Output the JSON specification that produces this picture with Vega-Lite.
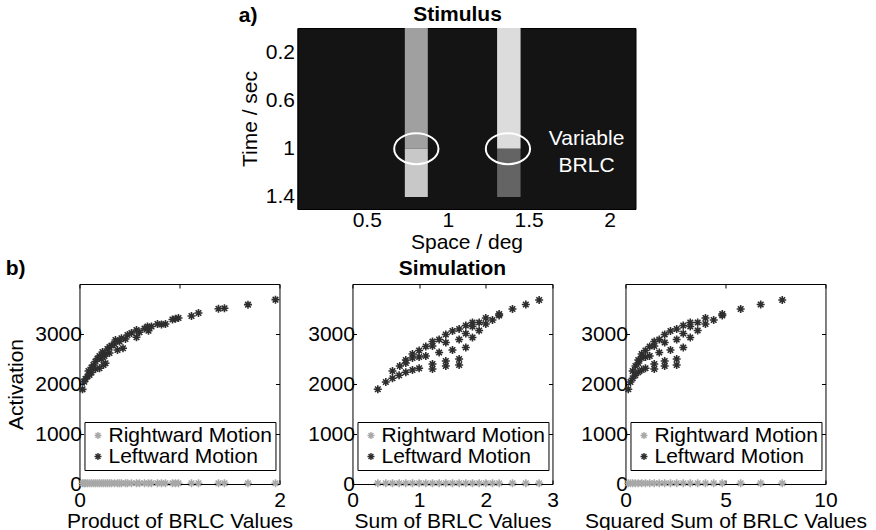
{
  "$schema": "https://vega.github.io/schema/vega-lite/v6.json",
  "background": "white",
  "padding": {"left": 5, "right": 5, "top": 3, "bottom": 0},
  "datasets": {
    "stim": [
      {"x0": 0.735, "x1": 0.877, "t0": 0, "t1": 1.0, "c": "#a0a0a0"},
      {"x0": 0.735, "x1": 0.877, "t0": 1.0, "t1": 1.4, "c": "#c8c8c8"},
      {"x0": 1.305, "x1": 1.45, "t0": 0, "t1": 1.0, "c": "#dcdcdc"},
      {"x0": 1.305, "x1": 1.45, "t0": 1.0, "t1": 1.4, "c": "#646464"}
    ],
    "ell": [{"x": 0.806, "t": 1.0}, {"x": 1.372, "t": 1.0}],
    "lbl": [{"x": 1.858, "t": 0.92, "txt": "Variable"}, {"x": 1.858, "t": 1.14, "txt": "BRLC"}],
    "prod": [
      {"p": 0.03, "a": 15, "d": "Rightward Motion"}, {"p": 0.047, "a": 15, "d": "Rightward Motion"}, {"p": 0.06, "a": 15, "d": "Rightward Motion"},
      {"p": 0.08, "a": 15, "d": "Rightward Motion"}, {"p": 0.1, "a": 15, "d": "Rightward Motion"}, {"p": 0.12, "a": 15, "d": "Rightward Motion"},
      {"p": 0.14, "a": 15, "d": "Rightward Motion"}, {"p": 0.16, "a": 15, "d": "Rightward Motion"}, {"p": 0.18, "a": 15, "d": "Rightward Motion"},
      {"p": 0.2, "a": 15, "d": "Rightward Motion"}, {"p": 0.22, "a": 15, "d": "Rightward Motion"}, {"p": 0.24, "a": 15, "d": "Rightward Motion"},
      {"p": 0.26, "a": 15, "d": "Rightward Motion"}, {"p": 0.28, "a": 15, "d": "Rightward Motion"}, {"p": 0.3, "a": 15, "d": "Rightward Motion"},
      {"p": 0.32, "a": 15, "d": "Rightward Motion"}, {"p": 0.35, "a": 15, "d": "Rightward Motion"}, {"p": 0.38, "a": 15, "d": "Rightward Motion"},
      {"p": 0.4, "a": 15, "d": "Rightward Motion"}, {"p": 0.42, "a": 15, "d": "Rightward Motion"}, {"p": 0.46, "a": 15, "d": "Rightward Motion"},
      {"p": 0.48, "a": 15, "d": "Rightward Motion"}, {"p": 0.52, "a": 15, "d": "Rightward Motion"}, {"p": 0.57, "a": 15, "d": "Rightward Motion"},
      {"p": 0.6, "a": 15, "d": "Rightward Motion"}, {"p": 0.65, "a": 15, "d": "Rightward Motion"}, {"p": 0.69, "a": 15, "d": "Rightward Motion"},
      {"p": 0.72, "a": 15, "d": "Rightward Motion"}, {"p": 0.78, "a": 15, "d": "Rightward Motion"}, {"p": 0.82, "a": 15, "d": "Rightward Motion"},
      {"p": 0.86, "a": 15, "d": "Rightward Motion"}, {"p": 0.93, "a": 15, "d": "Rightward Motion"}, {"p": 0.96, "a": 15, "d": "Rightward Motion"},
      {"p": 0.99, "a": 15, "d": "Rightward Motion"}, {"p": 1.12, "a": 15, "d": "Rightward Motion"}, {"p": 1.19, "a": 15, "d": "Rightward Motion"},
      {"p": 1.39, "a": 15, "d": "Rightward Motion"}, {"p": 1.45, "a": 15, "d": "Rightward Motion"}, {"p": 1.685, "a": 15, "d": "Rightward Motion"},
      {"p": 1.96, "a": 15, "d": "Rightward Motion"},
      {"p": 1.96, "a": 3687, "d": "Leftward Motion"}, {"p": 1.685, "a": 3587, "d": "Leftward Motion"}, {"p": 1.45, "a": 3515, "d": "Leftward Motion"},
      {"p": 1.39, "a": 3505, "d": "Leftward Motion"}, {"p": 1.19, "a": 3420, "d": "Leftward Motion"}, {"p": 1.12, "a": 3360, "d": "Leftward Motion"},
      {"p": 0.99, "a": 3320, "d": "Leftward Motion"}, {"p": 0.96, "a": 3305, "d": "Leftward Motion"}, {"p": 0.93, "a": 3290, "d": "Leftward Motion"},
      {"p": 0.86, "a": 3200, "d": "Leftward Motion"}, {"p": 0.82, "a": 3190, "d": "Leftward Motion"}, {"p": 0.78, "a": 3200, "d": "Leftward Motion"},
      {"p": 0.72, "a": 3150, "d": "Leftward Motion"}, {"p": 0.68, "a": 3150, "d": "Leftward Motion"}, {"p": 0.65, "a": 3110, "d": "Leftward Motion"},
      {"p": 0.69, "a": 3065, "d": "Leftward Motion"}, {"p": 0.6, "a": 3035, "d": "Leftward Motion"}, {"p": 0.57, "a": 3080, "d": "Leftward Motion"},
      {"p": 0.57, "a": 2935, "d": "Leftward Motion"}, {"p": 0.52, "a": 3020, "d": "Leftward Motion"}, {"p": 0.48, "a": 2980, "d": "Leftward Motion"},
      {"p": 0.46, "a": 2900, "d": "Leftward Motion"}, {"p": 0.435, "a": 2715, "d": "Leftward Motion"}, {"p": 0.42, "a": 2915, "d": "Leftward Motion"},
      {"p": 0.4, "a": 2850, "d": "Leftward Motion"}, {"p": 0.38, "a": 2680, "d": "Leftward Motion"}, {"p": 0.36, "a": 2880, "d": "Leftward Motion"},
      {"p": 0.35, "a": 2800, "d": "Leftward Motion"}, {"p": 0.32, "a": 2770, "d": "Leftward Motion"}, {"p": 0.3, "a": 2740, "d": "Leftward Motion"},
      {"p": 0.3, "a": 2620, "d": "Leftward Motion"}, {"p": 0.28, "a": 2700, "d": "Leftward Motion"}, {"p": 0.26, "a": 2415, "d": "Leftward Motion"},
      {"p": 0.26, "a": 2600, "d": "Leftward Motion"}, {"p": 0.25, "a": 2560, "d": "Leftward Motion"}, {"p": 0.24, "a": 2380, "d": "Leftward Motion"},
      {"p": 0.23, "a": 2640, "d": "Leftward Motion"}, {"p": 0.22, "a": 2500, "d": "Leftward Motion"}, {"p": 0.2, "a": 2315, "d": "Leftward Motion"},
      {"p": 0.2, "a": 2560, "d": "Leftward Motion"}, {"p": 0.18, "a": 2510, "d": "Leftward Motion"}, {"p": 0.16, "a": 2450, "d": "Leftward Motion"},
      {"p": 0.16, "a": 2300, "d": "Leftward Motion"}, {"p": 0.14, "a": 2380, "d": "Leftward Motion"}, {"p": 0.12, "a": 2330, "d": "Leftward Motion"},
      {"p": 0.12, "a": 2230, "d": "Leftward Motion"}, {"p": 0.1, "a": 2180, "d": "Leftward Motion"}, {"p": 0.09, "a": 2260, "d": "Leftward Motion"},
      {"p": 0.08, "a": 2150, "d": "Leftward Motion"}, {"p": 0.06, "a": 2100, "d": "Leftward Motion"}, {"p": 0.047, "a": 2047, "d": "Leftward Motion"},
      {"p": 0.03, "a": 1893, "d": "Leftward Motion"}
    ],
    "sums": [
      {"s": 0.38, "q": 0.14, "a": 15, "d": "Rightward Motion"}, {"s": 0.5, "q": 0.25, "a": 15, "d": "Rightward Motion"},
      {"s": 0.6, "q": 0.36, "a": 15, "d": "Rightward Motion"}, {"s": 0.7, "q": 0.49, "a": 15, "d": "Rightward Motion"},
      {"s": 0.8, "q": 0.64, "a": 15, "d": "Rightward Motion"}, {"s": 0.9, "q": 0.81, "a": 15, "d": "Rightward Motion"},
      {"s": 1.0, "q": 1.0, "a": 15, "d": "Rightward Motion"}, {"s": 1.1, "q": 1.21, "a": 15, "d": "Rightward Motion"},
      {"s": 1.2, "q": 1.44, "a": 15, "d": "Rightward Motion"}, {"s": 1.3, "q": 1.69, "a": 15, "d": "Rightward Motion"},
      {"s": 1.4, "q": 1.96, "a": 15, "d": "Rightward Motion"}, {"s": 1.5, "q": 2.25, "a": 15, "d": "Rightward Motion"},
      {"s": 1.6, "q": 2.56, "a": 15, "d": "Rightward Motion"}, {"s": 1.7, "q": 2.89, "a": 15, "d": "Rightward Motion"},
      {"s": 1.8, "q": 3.24, "a": 15, "d": "Rightward Motion"}, {"s": 1.9, "q": 3.61, "a": 15, "d": "Rightward Motion"},
      {"s": 2.0, "q": 4.0, "a": 15, "d": "Rightward Motion"}, {"s": 2.1, "q": 4.41, "a": 15, "d": "Rightward Motion"},
      {"s": 2.2, "q": 4.84, "a": 15, "d": "Rightward Motion"}, {"s": 2.4, "q": 5.76, "a": 15, "d": "Rightward Motion"},
      {"s": 2.6, "q": 6.76, "a": 15, "d": "Rightward Motion"}, {"s": 2.8, "q": 7.84, "a": 15, "d": "Rightward Motion"},
      {"s": 0.38, "q": 0.14, "a": 1895, "d": "Leftward Motion"}, {"s": 0.5, "q": 0.25, "a": 2040, "d": "Leftward Motion"},
      {"s": 0.6, "q": 0.36, "a": 2115, "d": "Leftward Motion"}, {"s": 0.6, "q": 0.36, "a": 2260, "d": "Leftward Motion"},
      {"s": 0.7, "q": 0.49, "a": 2175, "d": "Leftward Motion"}, {"s": 0.71, "q": 0.5, "a": 2360, "d": "Leftward Motion"},
      {"s": 0.8, "q": 0.64, "a": 2235, "d": "Leftward Motion"}, {"s": 0.8, "q": 0.64, "a": 2420, "d": "Leftward Motion"},
      {"s": 0.8, "q": 0.64, "a": 2480, "d": "Leftward Motion"}, {"s": 0.9, "q": 0.81, "a": 2280, "d": "Leftward Motion"},
      {"s": 0.9, "q": 0.81, "a": 2520, "d": "Leftward Motion"}, {"s": 0.9, "q": 0.81, "a": 2600, "d": "Leftward Motion"},
      {"s": 1.0, "q": 1.0, "a": 2315, "d": "Leftward Motion"}, {"s": 1.0, "q": 1.0, "a": 2540, "d": "Leftward Motion"},
      {"s": 1.0, "q": 1.0, "a": 2670, "d": "Leftward Motion"}, {"s": 1.1, "q": 1.21, "a": 2560, "d": "Leftward Motion"},
      {"s": 1.1, "q": 1.21, "a": 2750, "d": "Leftward Motion"}, {"s": 1.2, "q": 1.44, "a": 2300, "d": "Leftward Motion"},
      {"s": 1.2, "q": 1.44, "a": 2400, "d": "Leftward Motion"}, {"s": 1.2, "q": 1.44, "a": 2760, "d": "Leftward Motion"},
      {"s": 1.2, "q": 1.44, "a": 2850, "d": "Leftward Motion"}, {"s": 1.3, "q": 1.69, "a": 2630, "d": "Leftward Motion"},
      {"s": 1.3, "q": 1.69, "a": 2890, "d": "Leftward Motion"}, {"s": 1.4, "q": 1.96, "a": 2360, "d": "Leftward Motion"},
      {"s": 1.4, "q": 1.96, "a": 2460, "d": "Leftward Motion"}, {"s": 1.4, "q": 1.96, "a": 2830, "d": "Leftward Motion"},
      {"s": 1.4, "q": 1.96, "a": 2990, "d": "Leftward Motion"}, {"s": 1.5, "q": 2.25, "a": 2680, "d": "Leftward Motion"},
      {"s": 1.5, "q": 2.25, "a": 3060, "d": "Leftward Motion"}, {"s": 1.6, "q": 2.56, "a": 2380, "d": "Leftward Motion"},
      {"s": 1.6, "q": 2.56, "a": 2500, "d": "Leftward Motion"}, {"s": 1.6, "q": 2.56, "a": 2890, "d": "Leftward Motion"},
      {"s": 1.6, "q": 2.56, "a": 3100, "d": "Leftward Motion"}, {"s": 1.7, "q": 2.89, "a": 2730, "d": "Leftward Motion"},
      {"s": 1.7, "q": 2.89, "a": 3010, "d": "Leftward Motion"}, {"s": 1.7, "q": 2.89, "a": 3170, "d": "Leftward Motion"},
      {"s": 1.8, "q": 3.24, "a": 2930, "d": "Leftward Motion"}, {"s": 1.8, "q": 3.24, "a": 3150, "d": "Leftward Motion"},
      {"s": 1.8, "q": 3.24, "a": 3230, "d": "Leftward Motion"}, {"s": 1.9, "q": 3.61, "a": 3070, "d": "Leftward Motion"},
      {"s": 1.9, "q": 3.61, "a": 3230, "d": "Leftward Motion"}, {"s": 2.0, "q": 4.0, "a": 3200, "d": "Leftward Motion"},
      {"s": 2.0, "q": 4.0, "a": 3320, "d": "Leftward Motion"}, {"s": 2.1, "q": 4.41, "a": 3280, "d": "Leftward Motion"},
      {"s": 2.2, "q": 4.84, "a": 3370, "d": "Leftward Motion"}, {"s": 2.2, "q": 4.84, "a": 3400, "d": "Leftward Motion"},
      {"s": 2.4, "q": 5.76, "a": 3500, "d": "Leftward Motion"}, {"s": 2.6, "q": 6.76, "a": 3590, "d": "Leftward Motion"},
      {"s": 2.8, "q": 7.84, "a": 3680, "d": "Leftward Motion"}
    ]
  },
  "vconcat": [
    {
      "title": {"text": "a)", "anchor": "start", "frame": "bounds", "offset": -22},
      "spacing": 0,
      "hconcat": [
        {
          "width": 338,
          "height": 181,
          "view": {"fill": "#141414", "stroke": "#000000"},
          "title": {"text": "Stimulus", "dx": -9, "offset": 3},
          "layer": [
            {
              "data": {"name": "stim"},
              "mark": {"type": "rect"},
              "encoding": {
                "x": {"field": "x0", "type": "quantitative", "scale": {"domain": [0.072, 2.16], "nice": false, "zero": false},
                      "axis": {"orient": "bottom", "values": [0.5, 1, 1.5, 2], "format": "~g", "title": "Space / deg", "ticks": false, "tickSize": 0, "labelPadding": 0, "titlePadding": 1}},
                "x2": {"field": "x1"},
                "y": {"field": "t0", "type": "quantitative", "scale": {"domain": [0, 1.5], "reverse": true, "nice": false, "zero": false},
                      "axis": {"orient": "left", "values": [0.2, 0.6, 1, 1.4], "format": "~g", "title": "Time / sec", "ticks": false, "tickSize": 0, "labelPadding": 3, "titlePadding": 5}},
                "y2": {"field": "t1"},
                "color": {"field": "c", "type": "nominal", "scale": null, "legend": null}
              }
            },
            {
              "data": {"name": "ell"},
              "mark": {"type": "point", "shape": "M-1,0C-1,-0.387,-0.552,-0.7,0,-0.7C0.552,-0.7,1,-0.387,1,0C1,0.387,0.552,0.7,0,0.7C-0.552,0.7,-1,0.387,-1,0Z", "size": 1960, "filled": false, "color": "#ffffff", "strokeWidth": 2, "opacity": 1},
              "encoding": {
                "x": {"field": "x", "type": "quantitative"},
                "y": {"field": "t", "type": "quantitative"}
              }
            },
            {
              "data": {"name": "lbl"},
              "mark": {"type": "text", "color": "#ffffff", "fontSize": 21, "font": "Liberation Sans", "baseline": "middle", "align": "center"},
              "encoding": {
                "x": {"field": "x", "type": "quantitative"},
                "y": {"field": "t", "type": "quantitative"},
                "text": {"field": "txt"}
              }
            }
          ]
        },
        {
          "width": 12,
          "height": 10,
          "data": {"values": []},
          "mark": {"type": "point"},
          "encoding": {}
        }
      ]
    },
    {
      "bounds": "flush",
      "spacing": 73,
      "resolve": {"scale": {"color": "independent"}, "legend": {"color": "independent"}},
      "hconcat": [
        {
          "width": 200,
          "height": 200,
          "title": {"text": "b)", "anchor": "start", "frame": "bounds", "offset": 5},
          "layer": [
            {
              "data": {"name": "prod"},
              "mark": {"type": "point", "shape": "M-1,0L1,0M0,-1L0,1M-0.7,-0.7L0.7,0.7M-0.7,0.7L0.7,-0.7", "filled": false, "size": 64, "strokeWidth": 1.6, "opacity": 1},
              "encoding": {
                "x": {"field": "p", "type": "quantitative", "scale": {"domain": [0, 2], "nice": false},
                      "axis": {"orient": "bottom", "values": [0, 1, 2], "format": "d", "title": "Product of BRLC Values", "tickSize": -4, "labelPadding": 9, "titlePadding": 0}},
                "y": {"field": "a", "type": "quantitative", "scale": {"domain": [0, 4000], "nice": false},
                      "axis": {"orient": "left", "values": [0, 1000, 2000, 3000], "format": "d", "title": "Activation", "tickSize": -4, "labelPadding": 2, "titlePadding": 8}},
                "color": {"field": "d", "type": "nominal", "scale": {"domain": ["Rightward Motion", "Leftward Motion"], "range": ["#a8a8a8", "#2e2e2e"]},
                          "legend": {"orient": "none", "legendX": 5, "legendY": 138, "title": null, "strokeColor": "#000000", "fillColor": "#ffffff", "padding": 3,
                                     "symbolType": "M-1,0L1,0M0,-1L0,1M-0.7,-0.7L0.7,0.7M-0.7,0.7L0.7,-0.7", "symbolSize": 49, "symbolStrokeWidth": 1.4, "symbolOffset": 0,
                                     "labelOffset": 0, "labelFontSize": 21, "labelFont": "Liberation Sans", "labelColor": "#000000", "rowPadding": -2, "labelLimit": 0}}
              }
            },
            {
              "data": {"values": []},
              "mark": {"type": "point"},
              "encoding": {
                "x": {"field": "p", "type": "quantitative", "axis": {"orient": "top", "labels": false, "title": null, "tickSize": -4, "values": [0, 1, 2]}},
                "y": {"field": "a", "type": "quantitative", "axis": {"orient": "right", "labels": false, "title": null, "tickSize": -4, "values": [0, 1000, 2000, 3000]}}
              }
            }
          ]
        },
        {
          "width": 200,
          "height": 200,
          "title": {"text": "Simulation", "offset": 5},
          "layer": [
            {
              "data": {"name": "sums"},
              "mark": {"type": "point", "shape": "M-1,0L1,0M0,-1L0,1M-0.7,-0.7L0.7,0.7M-0.7,0.7L0.7,-0.7", "filled": false, "size": 64, "strokeWidth": 1.6, "opacity": 1},
              "encoding": {
                "x": {"field": "s", "type": "quantitative", "scale": {"domain": [0, 3], "nice": false},
                      "axis": {"orient": "bottom", "values": [0, 1, 2, 3], "format": "d", "title": "Sum of BRLC Values", "tickSize": -4, "labelPadding": 9, "titlePadding": 0}},
                "y": {"field": "a", "type": "quantitative", "scale": {"domain": [0, 4000], "nice": false},
                      "axis": {"orient": "left", "values": [0, 1000, 2000, 3000], "format": "d", "title": null, "tickSize": -4, "labelPadding": 2}},
                "color": {"field": "d", "type": "nominal", "scale": {"domain": ["Rightward Motion", "Leftward Motion"], "range": ["#a8a8a8", "#2e2e2e"]},
                          "legend": {"orient": "none", "legendX": 5, "legendY": 138, "title": null, "strokeColor": "#000000", "fillColor": "#ffffff", "padding": 3,
                                     "symbolType": "M-1,0L1,0M0,-1L0,1M-0.7,-0.7L0.7,0.7M-0.7,0.7L0.7,-0.7", "symbolSize": 49, "symbolStrokeWidth": 1.4, "symbolOffset": 0,
                                     "labelOffset": 0, "labelFontSize": 21, "labelFont": "Liberation Sans", "labelColor": "#000000", "rowPadding": -2, "labelLimit": 0}}
              }
            },
            {
              "data": {"values": []},
              "mark": {"type": "point"},
              "encoding": {
                "x": {"field": "s", "type": "quantitative", "axis": {"orient": "top", "labels": false, "title": null, "tickSize": -4, "values": [0, 1, 2, 3]}},
                "y": {"field": "a", "type": "quantitative", "axis": {"orient": "right", "labels": false, "title": null, "tickSize": -4, "values": [0, 1000, 2000, 3000]}}
              }
            }
          ]
        },
        {
          "width": 200,
          "height": 200,
          "layer": [
            {
              "data": {"name": "sums"},
              "mark": {"type": "point", "shape": "M-1,0L1,0M0,-1L0,1M-0.7,-0.7L0.7,0.7M-0.7,0.7L0.7,-0.7", "filled": false, "size": 64, "strokeWidth": 1.6, "opacity": 1},
              "encoding": {
                "x": {"field": "q", "type": "quantitative", "scale": {"domain": [0, 10], "nice": false},
                      "axis": {"orient": "bottom", "values": [0, 5, 10], "format": "d", "title": "Squared Sum of BRLC Values", "tickSize": -4, "labelPadding": 9, "titlePadding": 0}},
                "y": {"field": "a", "type": "quantitative", "scale": {"domain": [0, 4000], "nice": false},
                      "axis": {"orient": "left", "values": [0, 1000, 2000, 3000], "format": "d", "title": null, "tickSize": -4, "labelPadding": 2}},
                "color": {"field": "d", "type": "nominal", "scale": {"domain": ["Rightward Motion", "Leftward Motion"], "range": ["#a8a8a8", "#2e2e2e"]},
                          "legend": {"orient": "none", "legendX": 5, "legendY": 138, "title": null, "strokeColor": "#000000", "fillColor": "#ffffff", "padding": 3,
                                     "symbolType": "M-1,0L1,0M0,-1L0,1M-0.7,-0.7L0.7,0.7M-0.7,0.7L0.7,-0.7", "symbolSize": 49, "symbolStrokeWidth": 1.4, "symbolOffset": 0,
                                     "labelOffset": 0, "labelFontSize": 21, "labelFont": "Liberation Sans", "labelColor": "#000000", "rowPadding": -2, "labelLimit": 0}}
              }
            },
            {
              "data": {"values": []},
              "mark": {"type": "point"},
              "encoding": {
                "x": {"field": "q", "type": "quantitative", "axis": {"orient": "top", "labels": false, "title": null, "tickSize": -4, "values": [0, 5, 10]}},
                "y": {"field": "a", "type": "quantitative", "axis": {"orient": "right", "labels": false, "title": null, "tickSize": -4, "values": [0, 1000, 2000, 3000]}}
              }
            }
          ]
        }
      ]
    }
  ],
  "center": true,
  "spacing": 4,
  "config": {
    "font": "Liberation Sans",
    "view": {"stroke": null},
    "axis": {
      "labelFont": "Liberation Sans", "labelFontSize": 21, "labelColor": "#000000",
      "titleFont": "Liberation Sans", "titleFontSize": 21, "titleFontWeight": "normal", "titleColor": "#000000",
      "domainColor": "#000000", "domainWidth": 1, "tickColor": "#000000", "tickWidth": 1,
      "grid": false, "labelFlush": false, "labelOverlap": false
    },
    "title": {"font": "Liberation Sans", "fontSize": 21, "fontWeight": "bold", "color": "#000000"}
  }
}
